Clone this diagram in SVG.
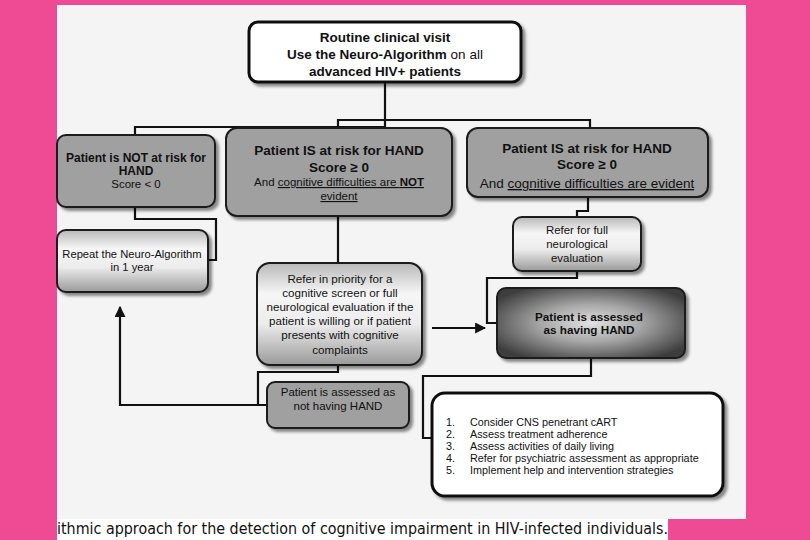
<svg xmlns="http://www.w3.org/2000/svg" width="810" height="540" viewBox="0 0 810 540">
<defs>
<style>
text{font-family:"Liberation Sans",Arial,sans-serif;fill:#111;text-anchor:middle}
.b{font-weight:bold}
.box{stroke:#1a1a1a;stroke-width:2}
.thick{stroke:#111;stroke-width:3;fill:#fff}
.gray{fill:#a0a0a0}
.light{fill:url(#lg)}
.conn{fill:none;stroke:#111;stroke-width:2.2}
.u{text-decoration:underline}
</style>
<filter id="sh" x="-10%" y="-10%" width="125%" height="130%">
<feDropShadow dx="3" dy="3" stdDeviation="1.5" flood-color="#000" flood-opacity="0.45"/>
</filter>
<linearGradient id="lg" x1="0" y1="0" x2="0" y2="1">
<stop offset="0" stop-color="#b8b8b8"/>
<stop offset="0.3" stop-color="#f6f6f6"/>
<stop offset="0.6" stop-color="#ececec"/>
<stop offset="1" stop-color="#9a9a9a"/>
</linearGradient>
<radialGradient id="rg" cx="0.5" cy="0.5" r="0.6">
<stop offset="0" stop-color="#e2e2e2"/>
<stop offset="0.45" stop-color="#a6a6a6"/>
<stop offset="1" stop-color="#3e3e3e"/>
</radialGradient>
<marker id="ah" viewBox="0 0 10 10" refX="9" refY="5" markerWidth="5" markerHeight="5" orient="auto-start-reverse">
<path d="M0,0 L10,5 L0,10 z" fill="#111"/>
</marker>
</defs>
<rect x="0" y="0" width="810" height="540" fill="#ee4b94"/>
<rect x="57" y="5" width="689" height="514" fill="#f4f4f4"/>
<rect x="57" y="519" width="611" height="21" fill="#ffffff"/>
<text x="57" y="534" style="text-anchor:start;font-family:'DejaVu Sans',sans-serif;font-size:15px" textLength="611" lengthAdjust="spacingAndGlyphs">ithmic approach for the detection of cognitive impairment in HIV-infected individuals.</text>

<g id="connectors">
<path class="conn" d="M385,82 V127 M135,134 V127 H385 M338,128 V120 H590 V127"/>
<path class="conn" d="M135,207 V219 H216 V260 H208"/>
<path class="conn" d="M338,217 V263"/>
<path class="conn" d="M588,197 V211 H577 V217"/>
<path class="conn" d="M577,271 V278 H487 V323 H497"/>
<path class="conn" d="M591,358 V376 H423 V438 H432"/>
<path class="conn" d="M338,365 V372 H258 V405 H267"/>
<path class="conn" d="M258,405 H120 V307" marker-end="url(#ah)"/>
<path class="conn" d="M432,328 H485" marker-end="url(#ah)"/>
</g>

<g id="n-routine">
<rect class="thick" x="249" y="22" width="272" height="60" rx="9" filter="url(#sh)"/>
<text x="385" y="42" class="b" font-size="13.5">Routine clinical visit</text>
<text x="385" y="59" font-size="13.5"><tspan class="b">Use the Neuro-Algorithm</tspan> on all</text>
<text x="385" y="76" class="b" font-size="13.5">advanced HIV+ patients</text>
</g>

<g id="n-notrisk">
<rect class="box gray" x="57" y="135" width="158" height="72" rx="9" filter="url(#sh)"/>
<text x="136" y="162" class="b" font-size="12">Patient is NOT at risk for</text>
<text x="136" y="175" class="b" font-size="12">HAND</text>
<text x="136" y="188" font-size="11.5">Score &lt; 0</text>
</g>

<g id="n-risk-not-evident">
<rect class="box gray" x="226" y="128" width="226" height="88" rx="11" filter="url(#sh)"/>
<text x="339" y="155" class="b" font-size="13.5">Patient IS at risk for HAND</text>
<text x="339" y="172" class="b" font-size="13.5">Score ≥ 0</text>
<text x="339" y="186" font-size="11.5">And <tspan class="u">cognitive difficulties are <tspan class="b">NOT</tspan></tspan></text>
<text x="339" y="200" font-size="11.5" class="u">evident</text>
</g>

<g id="n-risk-evident">
<rect class="box gray" x="467" y="128" width="241" height="69" rx="11" filter="url(#sh)"/>
<text x="587" y="153" class="b" font-size="13.5">Patient IS at risk for HAND</text>
<text x="587" y="169" class="b" font-size="13.5">Score ≥ 0</text>
<text x="587" y="188" font-size="13.5">And <tspan class="u">cognitive difficulties are evident</tspan></text>
</g>

<g id="n-repeat">
<rect class="box light" x="57" y="230" width="151" height="62" rx="9" filter="url(#sh)"/>
<text x="132" y="258" font-size="11.2">Repeat the Neuro-Algorithm</text>
<text x="132" y="271" font-size="11.2">in 1 year</text>
</g>

<g id="n-referfull">
<rect class="box light" x="513" y="217" width="128" height="54" rx="9" filter="url(#sh)"/>
<text x="577" y="234" font-size="11.4">Refer for full</text>
<text x="577" y="248" font-size="11.4">neurological</text>
<text x="577" y="262" font-size="11.4">evaluation</text>
</g>

<g id="n-referpriority">
<rect class="box light" x="257" y="263" width="165" height="102" rx="13" filter="url(#sh)"/>
<text x="340" y="283" font-size="11.6">Refer in priority for a</text>
<text x="340" y="297" font-size="11.6">cognitive screen or full</text>
<text x="340" y="311" font-size="11.6">neurological evaluation if the</text>
<text x="340" y="325" font-size="11.6">patient is willing or if patient</text>
<text x="340" y="339" font-size="11.6">presents with cognitive</text>
<text x="340" y="354" font-size="11.6">complaints</text>
</g>

<g id="n-hand">
<rect class="box" fill="url(#rg)" x="497" y="288" width="188" height="70" rx="9" filter="url(#sh)"/>
<text x="589" y="321" class="b" font-size="11.7">Patient is assessed</text>
<text x="589" y="334" class="b" font-size="11.7">as having HAND</text>
</g>

<g id="n-nothand">
<rect class="box gray" x="267" y="382" width="142" height="46" rx="8" filter="url(#sh)"/>
<text x="338" y="396" font-size="11.5">Patient is assessed as</text>
<text x="338" y="410" font-size="11.5">not having HAND</text>
</g>

<g id="n-list" style="font-size:10.8px">
<rect class="thick" x="432" y="393" width="291" height="103" rx="13" filter="url(#sh)"/>
<text x="446" y="426" style="text-anchor:start">1.</text><text x="470" y="426" style="text-anchor:start">Consider CNS penetrant cART</text>
<text x="446" y="438" style="text-anchor:start">2.</text><text x="470" y="438" style="text-anchor:start">Assess treatment adherence</text>
<text x="446" y="450" style="text-anchor:start">3.</text><text x="470" y="450" style="text-anchor:start">Assess activities of daily living</text>
<text x="446" y="462" style="text-anchor:start">4.</text><text x="470" y="462" style="text-anchor:start">Refer for psychiatric assessment as appropriate</text>
<text x="446" y="474" style="text-anchor:start">5.</text><text x="470" y="474" style="text-anchor:start">Implement help and intervention strategies</text>
</g>
</svg>
